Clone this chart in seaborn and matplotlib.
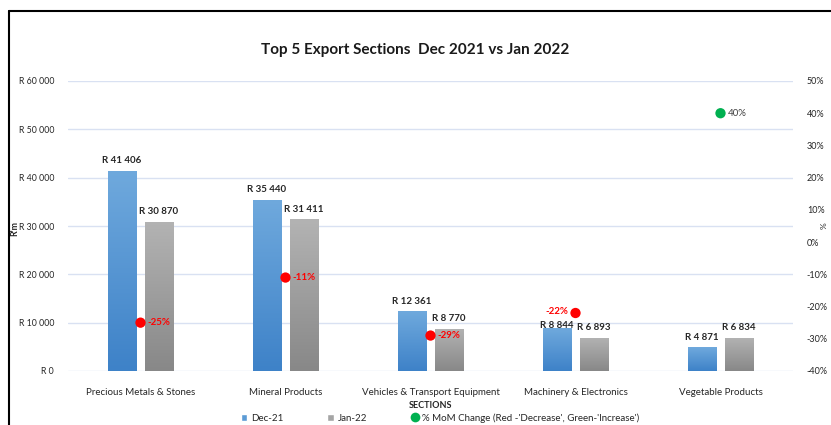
import numpy as np
import pandas as pd
import matplotlib
matplotlib.use("Agg")
import matplotlib.pyplot as plt
from matplotlib.lines import Line2D
from matplotlib.patches import Patch
import seaborn as sns

# Chart data
sections = ["Precious Metals & Stones", "Mineral Products",
            "Vehicles & Transport Equipment", "Machinery & Electronics",
            "Vegetable Products"]
dec21 = [41406, 35440, 12361, 8844, 4871]
jan22 = [30870, 31411, 8770, 6893, 6834]
mom_change = [-25, -11, -29, -22, 40]
periods = ["Dec-21", "Jan-22"]

sns.set_theme(style="white")
plt.rcParams["font.family"] = ["Lato", "DejaVu Sans"]

df = pd.DataFrame({
    "Section": sections * 2,
    "Period": [periods[0]] * 5 + [periods[1]] * 5,
    "Value": dec21 + jan22,
})
mom = pd.DataFrame({"Section": sections, "Change": mom_change})
mom["Dir"] = np.where(mom["Change"] < 0, "Decrease", "Increase")

fig = plt.figure(figsize=(8.31, 4.25), dpi=100)
ax = fig.add_axes([68 / 831, 1 - 371 / 425, 725 / 831, 290 / 425])

bar_cols = {"Dec-21": "#5B9BD5", "Jan-22": "#A5A5A5"}
sns.barplot(data=df, x="Section", y="Value", hue="Period", palette=bar_cols,
            saturation=1, width=0.51, gap=0.22, edgecolor="white",
            linewidth=0.6, legend=False, ax=ax)

# gradient fill for bars (first five are Dec-21, next five Jan-22)
grads = [("#3E82C8", "#6FA9DD"), ("#888888", "#B3B3B3")]
for k, p in enumerate(ax.patches[:10]):
    bot, top = grads[k // 5]
    cmap = matplotlib.colors.LinearSegmentedColormap.from_list("g", [bot, top])
    x0, y0 = p.get_x(), p.get_y()
    w, h = p.get_width(), p.get_height()
    im = ax.imshow(np.linspace(0, 1, 100).reshape(-1, 1), cmap=cmap,
                   extent=[x0, x0 + w, y0, y0 + h], origin="lower",
                   aspect="auto", zorder=p.get_zorder() + 0.1)
    im.set_clip_path(p)

ax.set_xlim(-0.5, 4.5)
ax.set_ylim(0, 60000)
ax.set_yticks(range(0, 60001, 10000))
ax.set_yticklabels(["R 0", "R 10 000", "R 20 000", "R 30 000", "R 40 000",
                    "R 50 000", "R 60 000"])
ax.yaxis.grid(True, color="#D9E1F2", linewidth=1)
ax.set_axisbelow(True)
for s in ax.spines.values():
    s.set_visible(False)
ax.tick_params(axis="y", length=0, labelsize=6.3, colors="#262626", pad=10)
ax.tick_params(axis="x", length=0, labelsize=7, colors="#262626", pad=12)
ax.set_xlabel("SECTIONS", fontsize=6.5, fontweight="bold", color="#262626",
              labelpad=3)
ax.set_ylabel("")
fig.text(15 / 831, 1 - 228 / 425, "R'm", rotation=90, ha="center",
         va="center", fontsize=6.3, fontweight="bold", color="#262626")

# value labels
for i, (d, j) in enumerate(zip(dec21, jan22)):
    for xo, v in ((-0.128, d), (0.128, j)):
        s = "R " + f"{v:,}".replace(",", " ")
        dy = -1 if (i == 3 and xo < 0) else 4
        ax.annotate(s, (i + xo, v), xytext=(0, dy), textcoords="offset points",
                    ha="center", va="bottom", fontsize=7, fontweight="bold",
                    color="#262626", zorder=6)

# MoM change on secondary axis
ax2 = ax.twinx()
sns.scatterplot(data=mom, x="Section", y="Change", hue="Dir",
                palette={"Decrease": "#FF0000", "Increase": "#00B050"},
                s=55, marker="o", linewidth=0, legend=False, ax=ax2, zorder=5)
ax2.set_ylim(-40, 50)
ax2.set_yticks(range(-40, 51, 10))
ax2.set_yticklabels([f"{t}%" for t in range(-40, 51, 10)])
ax2.tick_params(axis="y", length=0, labelsize=6.5, colors="#262626", pad=10)
ax2.set_ylabel("")
fig.text(824 / 831, 1 - 226 / 425, "%", rotation=90, ha="center",
         va="center", fontsize=6, color="#262626")
for s in ax2.spines.values():
    s.set_visible(False)
for i, c in enumerate(mom_change):
    col = "#FF0000" if c < 0 else "#404040"
    fw = "bold" if c < 0 else "normal"
    if i == 3:
        ax2.annotate(f"{c}%", (i, c), xytext=(-5, 1), textcoords="offset points",
                     ha="right", va="center", fontsize=7, color=col, fontweight=fw)
    else:
        ax2.annotate(f"{c}%", (i, c), xytext=(5, 0), textcoords="offset points",
                     ha="left", va="center", fontsize=7, color=col, fontweight=fw)

fig.text(0.5, 1 - 50 / 425, "Top 5 Export Sections  Dec 2021 vs Jan 2022",
         ha="center", va="center", fontsize=11, fontweight="bold",
         color="#1a1a1a")

handles = [Patch(facecolor="#5B9BD5", label="Dec-21"),
           Patch(facecolor="#A5A5A5", label="Jan-22"),
           Line2D([], [], marker="o", color="none", markerfacecolor="#00B050",
                  markeredgecolor="none", markersize=7,
                  label="% MoM Change (Red -'Decrease', Green-'Increase')")]
fig.legend(handles=handles, loc="center", bbox_to_anchor=(440 / 831, 1 - 418 / 425),
           ncol=3, frameon=False, fontsize=7, handlelength=0.7,
           handleheight=0.7, columnspacing=4.5, handletextpad=0.4)

# frame lines at top and left
fig.add_artist(Line2D([9 / 831, 1], [1 - 11 / 425] * 2, color="black", lw=1.5,
                      transform=fig.transFigure))
fig.add_artist(Line2D([9 / 831] * 2, [0, 1 - 11 / 425], color="black", lw=1.5,
                      transform=fig.transFigure))

fig.savefig("out.png", dpi=100)
